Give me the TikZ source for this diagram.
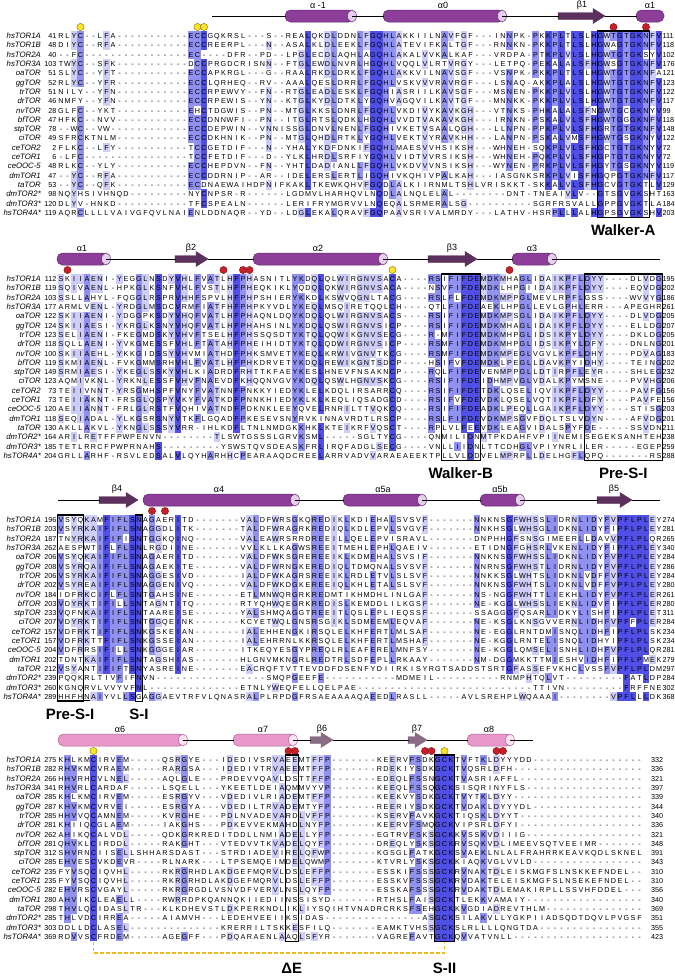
\documentclass[tikz,border=0pt]{standalone}
\usepackage{fontspec}
\setmainfont{Liberation Sans}
\definecolor{pidA}{RGB}{80,80,230}
\definecolor{pidB}{RGB}{145,145,240}
\definecolor{pidC}{RGB}{205,205,248}
\definecolor{hxPurple}{RGB}{140,62,152}
\definecolor{hxPurpleEdge}{RGB}{95,40,105}
\definecolor{hxPurpleCap}{RGB}{228,208,235}
\definecolor{stDark}{RGB}{92,48,92}
\definecolor{hxPink}{RGB}{232,152,202}
\definecolor{hxPinkEdge}{RGB}{175,95,145}
\definecolor{hxPinkCap}{RGB}{250,228,242}
\definecolor{stGrey}{RGB}{135,108,132}
\definecolor{dotRed}{RGB}{200,32,40}
\definecolor{dotRedEdge}{RGB}{120,15,20}
\definecolor{dotYellow}{RGB}{250,228,40}
\definecolor{dotYellowEdge}{RGB}{130,110,10}
\definecolor{linkGold}{RGB}{242,185,20}
\tikzset{
  seqname/.style={font=\fontsize{7.8}{8}\selectfont\itshape, anchor=base east, inner sep=0pt},
  seqnum/.style={font=\fontsize{7.2}{8}\selectfont, inner sep=0pt},
  sslabel/.style={font=\fontsize{9}{10}\selectfont, inner sep=0pt},
  motiflabel/.style={font=\fontsize{15}{16}\selectfont\bfseries, inner sep=0pt},
  motifbox/.style={draw=black, line width=1.1pt},
  helixP/.style={fill=hxPurple, draw=hxPurpleEdge, line width=0.5pt, rounded corners=5.5pt},
  capP/.style={fill=hxPurpleCap, draw=hxPurpleEdge, line width=0.5pt},
  helixK/.style={fill=hxPink, draw=hxPinkEdge, line width=0.5pt, rounded corners=5.5pt},
  capK/.style={fill=hxPinkCap, draw=hxPinkEdge, line width=0.5pt},
  strandP/.style={fill=stDark, draw=stDark, line width=0.4pt},
  strandK/.style={fill=stGrey, draw=stGrey, line width=0.4pt},
  backbone/.style={draw=black, line width=0.9pt},
  reddot/.style={fill=dotRed, draw=dotRedEdge, line width=0.4pt},
  yeldot/.style={fill=dotYellow, draw=dotYellowEdge, line width=0.4pt},
  golddash/.style={draw=linkGold, line width=1.4pt, dash pattern=on 3.5pt off 2.5pt},
}
\newcommand\helixel[4]{%
  \path[helix#4] (#1,#3-6) rectangle (#2+2,#3+6);
  \path[cap#4] (#2,#3) ellipse[x radius=4.5pt, y radius=6pt];}
\newcommand\strandel[4]{%
  \path[strand#4] (#1,#3-3.5) -- (#2-12,#3-3.5) -- (#2-12,#3-7.5) -- (#2,#3) -- (#2-12,#3+7.5) -- (#2-12,#3+3.5) -- (#1,#3+3.5) -- cycle;}
\newcommand\rdot[2]{\path[reddot] (#1,#2) circle[radius=3.6pt];}
\newcommand\ydot[2]{\path[yeldot] (#1,#2) circle[radius=3.6pt];}
\newcommand\numcolumn[5]{%
  \foreach \v [count=\i] in {#5} {\node[seqnum, anchor=#4] (#1-\i) at (#3, {#2+(\i-1)*9.3+2.6}) {\v};}}
\newcommand\namecolumn[2]{%
  \foreach \v [count=\i] in {hsTOR1A,hsTOR1B,hsTOR2A,hsTOR3A,oaTOR,ggTOR,trTOR,drTOR,nvTOR,bfTOR,stpTOR,ciTOR,ceTOR2,ceTOR1,ceOOC-5,dmTOR1,taTOR,dmTOR2*,dmTOR3*,hsTOR4A*}
    {\node[seqname] (#1-\i) at (41, {#2+(\i-1)*9.3+2.6}) {\v};}}

\ExplSyntaxOn
\intarray_new:Nn \g__aln_cnt_intarray { 26 }
\seq_new:N \l__aln_rows_seq
\int_new:N \l__aln_max_int
\int_new:N \l__aln_row_int
\int_new:N \l__aln_idx_int
\int_new:N \l__aln_ncol_int
\tl_new:N \l__aln_ch_tl
\tl_new:N \l__aln_fill_tl
\tl_const:Nn \c__aln_dash_tl { - }
\fp_new:N \l__aln_x_fp
\fp_new:N \l__aln_y_fp
\cs_new_protected:Npn \__aln_get_char:nn #1 #2
  {
    \tl_set:Nx \l__aln_ch_tl { \str_item:nn {#1} {#2} }
    \tl_if_empty:NT \l__aln_ch_tl { \tl_set_eq:NN \l__aln_ch_tl \c__aln_dash_tl }
  }
\cs_new_protected:Npn \__aln_cell:
  {
    \begin{pgfscope}
    \exp_args:NV \pgfsetfillcolor \l__aln_fill_tl
    \pgfpathrectangle
      { \pgfpoint { \fp_eval:n { \l__aln_x_fp - 3.3 } pt } { \fp_eval:n { \l__aln_y_fp - 4.7 } pt } }
      { \pgfpoint { 6.6pt } { 9.4pt } }
    \pgfusepath { fill }
    \end{pgfscope}
  }
\cs_new_protected:Npn \aln_block:nnnn #1 #2 #3 #4
  {
    \seq_set_from_clist:Nn \l__aln_rows_seq {#4}
    \int_set:Nn \l__aln_ncol_int {#2}
    \int_step_inline:nn { \l__aln_ncol_int }
      {
        \intarray_gzero:N \g__aln_cnt_intarray
        \int_zero:N \l__aln_max_int
        \seq_map_inline:Nn \l__aln_rows_seq
          {
            \__aln_get_char:nn {####1} {##1}
            \tl_if_eq:NNF \l__aln_ch_tl \c__aln_dash_tl
              {
                \int_set:Nn \l__aln_idx_int { \exp_args:NV \int_from_alph:n \l__aln_ch_tl }
                \intarray_gset:Nnn \g__aln_cnt_intarray { \l__aln_idx_int }
                  { \intarray_item:Nn \g__aln_cnt_intarray { \l__aln_idx_int } + 1 }
                \int_set:Nn \l__aln_max_int
                  { \int_max:nn { \l__aln_max_int } { \intarray_item:Nn \g__aln_cnt_intarray { \l__aln_idx_int } } }
              }
          }
        \tl_clear:N \l__aln_fill_tl
        \int_compare:nNnTF { \l__aln_max_int } > { 16 }
          { \tl_set:Nn \l__aln_fill_tl { pidA } }
          {
            \int_compare:nNnTF { \l__aln_max_int } > { 12 }
              { \tl_set:Nn \l__aln_fill_tl { pidB } }
              { \int_compare:nNnT { \l__aln_max_int } > { 8 } { \tl_set:Nn \l__aln_fill_tl { pidC } } }
          }
        \fp_set:Nn \l__aln_x_fp { 61 + ( ##1 - 1 ) * 6.5 }
        \int_zero:N \l__aln_row_int
        \seq_map_inline:Nn \l__aln_rows_seq
          {
            \fp_set:Nn \l__aln_y_fp { - ( #1 + \l__aln_row_int * 9.3 ) }
            \int_incr:N \l__aln_row_int
            \__aln_get_char:nn {####1} {##1}
            \tl_if_eq:NNF \l__aln_ch_tl \c__aln_dash_tl
              {
                \tl_if_empty:NF \l__aln_fill_tl
                  {
                    \int_compare:nNnT
                      { \intarray_item:Nn \g__aln_cnt_intarray { \exp_args:NV \int_from_alph:n \l__aln_ch_tl } }
                      = { \l__aln_max_int }
                      { \__aln_cell: }
                  }
              }
            \pgftext [ base , at = { \pgfpoint { \fp_use:N \l__aln_x_fp pt } { \fp_eval:n { \l__aln_y_fp - 2.6 } pt } } ] { \l__aln_ch_tl }
          }
      }
  }
\NewDocumentCommand \AlnBlock { m m m m } { \aln_block:nnnn {#1} {#2} {#3} {#4} }
\ExplSyntaxOff

\begin{document}
\begin{tikzpicture}[x=1pt,y=-1pt]
\useasboundingbox (0,0) rectangle (675,978);
\fill[white] (0,0) rectangle (675,978);

{\fontsize{7.2}{8}\selectfont
\AlnBlock{36}{93}{1}{
RLYC--LFA-----------ECCGQKRSL---S--REALQKDLDDNLFGQHLAKKIILNAVFGF---INNPK-PKKPLTLSLHGWTGTGKNFV,
DIYC--RFA-----------ECCREERPL---N--ASALKLDLEEKLFGQHLATEVIFKALTGF---RNNKN-PKKPLTLSLHGWAGTGKNFV,
--FC----------------EC----DFR--PD--LPGLECDLAQHLAGQHLAKALVVKALKAF---VRDPA-PTKPLVLSLHGWTGTGKSYV,
TWYC--SFK-----------DCCPRGDCRISNN--FTGLEWDLNVRLHGQHLVQQLVLRTVRGY---LETPQ-PEKALALSFHGWSGTGKNFV,
SLYC--YFT-----------ECCAPKRGL---G--RAALRKDLDRKLFGQHLAKKVILNAVSGF---VSNPK-PKKPLTLSLHGWTGTGKNFA,
RLYC--YFR-----------ECCLQRHEQ--RV--AAALQESLDRRLFGQHLVSKVVVRAVRGF---LSNAQ-AKKPLALSLHGWTGTGKNFV,
NILY--YFN-----------ECCRPEWVY--FN--RTGLEADLESKLFGQHIASRIILKAVSGF---MSNEN-PKKPLVLSLHGWTGTGKNFV,
NMFY--YFN-----------ECCRPEWIS--YN--KTGLKYDLDTKLYGQHVAGQVILKAVTGF---MNNKK-PKKPLVLSLHGWTGTGKNFV,
GLFC--YKT-----------EHCTDGWIS--PN--MTGLKKSLDNRLFGQHLVKDIVYKAVKGH---VTNKS-PHKALALSFNGWTGCGKNYV,
HFKC--NVV-----------ECCDNNWFI--PN--ITGLRTSLQDKLHGQHLVVDTVAKAVKGH---IRNKN-PSKALVLSFHGWTGGGKNFV,
--WC--VW------------ECCDEPWIN--VNNISSGLDNVLNENLFGQHIVKETVSAALQGH---LLNPN-PPKPLVLSFHGRTGTGKNFV,
SFRCKTNLM-----------ECCDKHNIK--PN--MTGLQHDLRTKLYGQHLVEKTVYRAVKHH---LANPN-PSKALVMSFHGWTGSGKNYV,
FLKC--LFY-----------TCCGETDIF---N--YHALYKDFDNKIFGQHLMAESVVHSIKSH---WHNEH-SQKPLVLSFHGCTGTGKNYV,
-LFC----------------TCCFETDIF---D--YLKLHRDLSRFIYGQHLVIDTVVRSIKSH---WHNEH-PQKPLVLSFHGPTGTGKNYV,
RLKC--YLY-----------ECCHEPDVN--FN--YHTLDADIANLLFGQHLVKDVVVNSIKSH---WYNEN-PRKPLVLSFHGYTGSGKNYV,
--YC--RFA-----------ECCDDRNIP--AR--IDELERSLERTLIGQHIVKQHIVPALKAH---IASGNKSRKPLVISFHGQPGTGKNFV,
--YC--QFK-----------ECDNAEWAIHDPNIFKAKLTKEWKQHVFGQDLALKIIRNMLTSHLVRISKKT-SKKALVLSFHGCVGTGKTLV,
NQYHSIVHNQD---------NYCNPSR-R------LGDMVLHARHQVLNQDLALNQLELAL--------DNT-TNEAIVLV--GTSGVGKSHT,
DLYV-HNKD-----------TFCSPEALN------LERIFRYMGRVVLNQEQALSRMERALSG----------SGRFRSVALLGPPGVGKTLA,
AQRCLLLLVAIVGFQVLNAIENLDDNAQR--YD--LDGLEKALQRAVFGQPAAVSRIVALMRDY---LATHV-HSRPLLLALHGPSGVGKSHV}
\AlnBlock{279}{93}{1}{
SKIIAENI-YEGGLNSDYVHLFVATLHFPHASNITLYKDQLQLWIRGNVSACA----RSIFIFDEMDKMHAGLIDAIKPFLDYY----DLVDG,
SQIVAENL-HPKGLKSNFVHLFVSTLHFPHEQKIKLYQDQLQKWIRGNVSACA----NSVFIFDEMDKLHPGIIDAIKPFLDYY----EQVDG,
SSLLAHYL-FQGGLRSPRVHHFSPVLHFPHPSHIERYKKDLKSWVQGNLTACG----RSLFLFDEMDKMPPGLMEVLRPFLGSS----WVVYG,
ARMLVENL-YRDGLMSDCVRMFIATFHFPHPKYVDLYKEQLMSQIRETQQLCH----QTLFIFDEAEKLHPGLLEVLGPHLERR---APEGHR,
SKIIAENI-YDGGPKSDYVHQFVATLHFPHAQNLDQYKDQLQLWIRGNVSACS----RSIFIFDEMDKMPSGLIDAIKPFLDYY----DLVDG,
SKIIAESI-YKRGLKSNYVHQFVATLHFPHAHSINLYKDQLQSWIRGNVSICP----RSIFIFDEMDKMHAGLIDAIKPFLDYY----ELLDG,
SELIAENI-FKEGMDSKYVHVFTSELHFPHSSQSDTYKTQLQQWIKGNVSECG----R-MFIFDEMDKMHPGLIDSIKPYLDYY----DKLDG,
SQLLAENI-YVKGMESSFVHLFTATAHFPHEIHIDTYKTQLQDWIRGNVSICP----RSMFIFDEMDKMHPGLIDSIKPYLDFY----DNLNG,
SKIIAEHL-YKKGIDSSYVHVMIATHDFPHKSMVETYKEQLKRWIVGNVTKCG----RSMFIFDEMDKMPEGLVGVLKPFLDHY----PDVAG,
SKMIAENL-FVKGMMSRHVHLFVATLHFPHKDRVETYKDQLREWIKGNTSDCP----HSIFVFDEMDKLPEGLLDAVKPYIDHY----TEING,
SRMIAESI-YKEGLSSKYVHLKIADRDFRHTTKFAEYKESLHNEVFNSAKNCP----RQLFIFDEVENMPPGLLDTIRPFLEYR----SHLEG,
AQMIVKNL-YRKNLESSFVHVFNAEVDFKHQQNVGVYKDQLQSWLHGNVSKCG----RSIFIFDEIDHMPVGLVDALKPYMSNE----PVVHG,
TEIIVNNT-YRSGMHSPFVNYFVATNNFPNKKYIEDYKLELKDQLIRSARRCQ----RSIFIFDETDKLQSELIQVIKPFLDYY----PAVFG,
TEIIAKNT-FRSGLQSPYVKYFVATKDFPNNKHIEDYKLKLKEQLIQSADGCD----RSIFVFDEVDKLQSELVQTIKPFLDFY----PAVFE,
AEIIANNT-FRLGLRSTFVQHIVATNDFPDKNKLEEYQVELRNRILTTVQKCQ----RSIFIFDEADKLPEQLLGAIKPFLDYY----STISG,
SEQIADAL-YLKGSRSNYVTKFLGQADFPKESEVSNYRVKINNAVRDTLRSCP----RSLFIFDEVDKMPSGVFDQLTSLVDYN----AFVDG,
AKLLAKVL-YKNGLSSSYVRR-IHLKDFLTNLNMDGKKHKLKTEIKRFVQSCT----RPLVLFEEVDKLEAGVIDALSPYFDE-----SSVDN,
ARILRETFFPWPENVN--------TLSWTGSSSLGRVKSML-----SGLTYCG----QNMILIDNMTPKDAHFVPIINEMISEGEKSANHTEH,
TETLRRCFPWPRNAHS---------YSWSTQVSDEASKFRLIRQFADGLSECG----VNLLIIDNLTTCDHGLVPIYNRLILER-----EGEP,
GRLLARHF-RSVLEDSALVLQYHARHHCPEARAAQDCREELARRVADVVARAEAEEKTPLLVLDDVELMPRPLLDELHGFLQPQ-------RS}
\AlnBlock{520}{93}{1}{
VSYQKAMFIFLSNAGAERITD-------VALDFWRSGKQREDIKLKDIEHALSVSVF-------NNKNSGFWHSSLIDRNLIDYFVPFLPLEY,
VSYRKAIFIFLSNAGGDLITK-------TALDFWRAGRKREDIQLKDLEPVLSVGVF-------NNKHSGLWHSGLIDKNLIDYFIPFLPLEY,
TNYRKAIFIFISNTGGKQINQ-------VALEAWRSRRDREEILLQELEPVISRAVL-------DNPHHGFSNSGIMEERLLDAVVPFLPLQR,
AESPWTIFLFLSNLRGDIINE-------VVLKLLKAGWSREEITMEHLEPHLQAEIV-------ETIDNGFGHSRLVKENLIDYFIPFLPLEY,
VSYQKAIFIFLSNAGAERITD-------VALDFWKSGREREEIKLKDMEHALSVSIF-------NNKNSGFWHSSLIDKNLIDYFVPFLPLEY,
VSYRQAIFIFLSNAGAEKITE-------VALDFWRNGKEREDIQLTDMQNALSVSVF-------NNRNSGFWHSTLIDRNLIDYFVPFLPLEY,
VSYRKAIFIFLSNAGGESIVD-------IALDFWKAGRSREEIKLRDLETVLSLSVF-------NNKKSGLWHTSLIDKNLVDFFVPFLPLEY,
VSYREAIFIFLSNAGGENIVQ-------VALDFWKDGKEREEIQLKHLETALSLSVF-------NNKNSGFWHTSLIDKNLVDFFVPFLPLEY,
IDFRKCIFLFLSNTGAHSINE-------ETLMNWQRGRKREDMTIKHMDHLINLGAF-------NS-NGGFWHTTLIEKHLIDYFVPFLPLER,
VDYRKTIFILLSNTAGNTITQ-------RTYQHWQEGRKREDISLKEMDDLILKGSF-------NE-KGGLWHSSLIEKNLIDVFIPFLPLER,
VQFNKAIFIFLSNTAAREISE-------YALSHMQAGGTREEITLQSLEPLIEQSSF-------SSAGGGFQSARLIDKYLISHFIPFLPLET,
VDYRKTIFIFLSNTGGQEINK-------KCYETWQLGNSRSGIKLSDMEEMLEQVAF-------NE-KSGLKNSGVVERNLIDHFVPFFPLER,
VDFRKTIFIFLSNKGSKEIAN-------IALEHHENGKIRSQLELKHFERTLMLSAF-------NE-EGGLRNTDMISNQLIDHFIPFLPLSK,
VDFRKTTFIFLSNKGSSEIAN-------IALEHRRNLKKRSQLELKHFERTLMSHAF-------NE-KGGLRNTELISNQLIDHYIPFLPLSK,
VDFRRSIFILLSNKGGGEIAR-------ITKEQYESGYPREQLRLEAFERELMNFSY-------NE-KGGLQMSELISNHLIDHFVPFLPLQR,
TDNTKAIFIFLSNTAGSHIAS-------HLGNVMKNGRLREDTRLSDFEPLLRKAAY-------NM-DGGMKKTTMIESHVIDHFIPFLPMEK,
VSYANTIFIFTSNYASREINE-------EACRQFTVTTEVDDFDSENFYDIIRKISYRGTSADDSTSRTGFASSEFVKHCLVSSFVPFLPLDM,
PQQKRLTIVFIFNVN-----------------SMQPGEEFE-----------MDMEIL----------RNMPHTQLVT---------FATLDP,
KGNQRVLVVYVFNL--------------ETNLYWEQFELLQELPAE---------------------------TTIVN---------FRFFNE,
HHFHNAIYVLLSGAGGAEVTRFVLQNASRALPLRPDGFRSAEAAAAQAEEDLRASLL-----AVLSREHPLWQAAAI--------VPFLLLDK}
\AlnBlock{760}{90}{0}{
KHLKMCIRVEM-----QSRGYE---IDEDIVSRVAEEMTFFP-------KEERVFSDKGCKTVFTKLDYYYDD,
RHVKMCVRAEM-----RARGSA---IDEDIVTRVAEEMTFFP-------RDEKIYSDKGCKTVQSRLDFH,
HHVRHCVLNEL-----AQLGLE---PRDEVVQAVLDSTTFFP-------EDEQLFSSNGCKTVASRIAFFL,
RHVRLCARDAF-----LSQELL---YKEETLDEIAQMMVYVP-------KEEQLFSSQGCKSISQRINYFLS,
KHLKMCIRVEM-----ESRGYV---VDEDIVLRIADEMTFFP-------KEEKVYSDKGCKTVYTKLDYY,
KHVKMCVRVEI-----ESRGYA---VDEDILTRVADEMTYFP-------REERIYSDKGCKTVDAKLDYYYDL,
HHVVQCAMNEM-----KVRGHE---PDLNVADEVARDLVFFP-------KSERVFAVKGCKTIQSKLDYYT,
KHIIQCGLAEM-----IAKGHS---PDKEVVEKMAHDLNYFP-------KEERVFSMQGCKVIPSRLDFYI,
AHIKQCALVDL-----QDKGRKREDITDDLLNMIADELLYFP-------EGTRVFSKSGCKKVSSKVDIIIG,
QHVKLCIRDDL-----RAKGHT---VTEDVVTKVADELQYFP-------DREQLYSKSGCKRVSQKVDLIMEEVSQTVEEIMR,
SHVRNCIISELLSHHARSDAST---STRDIADEVIRELQFWP-------KGSGLFATKGCKSVAEKLNLALFRAHRRKEAVKQDLSKNEL,
EHVESCVKDEVR----RLNARK---LTPSEMQEIMDELQWMP-------KTVRLYSKSGCKKIAQKVGLVVLD,
FYVSQCIQVHL-----RKRGRHDLAKDGEFMQRVLDSLEFFP-------ESSKIFSSSGCKRVNAKTDLEISKMGFSLNSKKEFNDEL,
FYVSQCIQVHL-----RKRGRHDLAKDGEFMQRVLDSLEFFP-------ESSKVFSSSGCKRVDAKTELEISKMGFSLNSEKEFNDEL,
EHVRSCVGAYL-----RKRGRGDLVSNVDFVERVLNSLQYFP-------ESSKAFSSSGCKRVDAKTDLEMAKIRPLLSSVHFDDEL,
AHVIKCLEAELL----RWRRDPKQANNQKIIEDIINSSISYD-------RTHSLFAISGCKTLEKKVAMAIY,
THVLQCIDASLTR---KLKDHEVSTLDKPERKNDLIKLIYSQIHTVNADRCRKSFSEHGCKKVGDIADREVTHLM,
THLVDCIRREA-----AIAMVH---LEDEHVEEIIKSIDAS---------------ASGCKSILAKVLLYGKPIIADSQDTDQVLPVGSF,
DDLLDCLASEL--------------KRERRILTSKKESFILQ-------EAMKTVHSSGCKSLRLLLLQNGTDA,
RDVVSCFRDEM-----AGEGFF---PDQARAENLAAQLSFYR-------VAGREFAVTGCKQVVATVNLL}
}

% names and residue numbers
\namecolumn{na}{36}\namecolumn{nb}{279}\namecolumn{nc}{520}\namecolumn{nd}{760}
\numcolumn{sa}{36}{56.5}{base east}{41,48,40,103,51,52,51,46,28,47,78,49,2,6,48,47,53,98,120,119}
\numcolumn{ea}{36}{662.5}{base west}{111,118,102,176,121,123,122,117,99,118,148,122,72,72,119,117,129,163,184,203}
\numcolumn{sb}{279}{56.5}{base east}{112,119,103,177,122,124,123,118,100,119,149,123,73,73,120,118,130,164,185,204}
\numcolumn{eb}{279}{662.5}{base west}{195,202,186,261,205,207,205,201,183,202,232,206,156,156,203,201,211,238,259,288}
\numcolumn{sc}{520}{56.5}{base east}{196,203,187,262,206,208,206,202,184,203,233,207,157,157,204,202,212,239,260,289}
\numcolumn{ec}{520}{662.5}{base west}{274,281,265,340,284,286,284,280,261,280,311,284,234,234,281,279,297,284,302,368}
\numcolumn{sd}{760}{56.5}{base east}{275,282,266,341,285,287,285,281,262,281,312,285,235,235,282,280,298,285,303,369}
\numcolumn{ed}{760}{651}{base west}{332,336,321,397,339,344,340,336,321,348,391,343,310,310,356,340,369,351,355,423}

% ---- block 1 secondary structure
\helixel{285}{352}{16}{P}
\helixel{383}{502}{16}{P}
\strandel{558}{605}{16}{P}
\path[helixP] (636,10) rectangle (664,22);
\draw[backbone] (212,16) -- (286,16) (352,16) -- (384,16) (502,16) -- (559,16) (605,16) -- (637,16);
\node[sslabel] (ssa1) at (318,5) {α -1};
\node[sslabel] (ssa2) at (443,5) {α0};
\node[sslabel] (ssa3) at (582,5) {β1};
\node[sslabel] (ssa4) at (650,5) {α1};
\ydot{80.5}{27}\ydot{197.5}{27}\ydot{204}{27}
\rdot{613.5}{27}\rdot{646}{27}
\draw[motifbox] (597.25,31) rectangle (649.25,217.7);
\node[motiflabel] (walkerA) at (623.25,230) {Walker-A};

% ---- block 2
\helixel{57}{106}{259}{P}
\strandel{175}{208}{259}{P}
\helixel{253}{383}{259}{P}
\strandel{428}{477}{259}{P}
\helixel{512}{552}{259}{P}
\draw[backbone] (106,259) -- (176,259) (208,259) -- (254,259) (383,259) -- (429,259) (477,259) -- (513,259) (552,259) -- (660,259);
\node[sslabel] (ssb1) at (82,248) {α1};
\node[sslabel] (ssb2) at (191,248) {β2};
\node[sslabel] (ssb3) at (318,248) {α2};
\node[sslabel] (ssb4) at (452,248) {β3};
\node[sslabel] (ssb5) at (532,248) {α3};
\rdot{67.5}{270}\rdot{223.5}{270}\rdot{243}{270}\rdot{249.5}{270}
\ydot{392.5}{270}\rdot{509.5}{270}
\draw[motifbox] (441.25,274) rectangle (480.25,460.7);
\draw[motifbox] (584.25,274) rectangle (662.25,460.7);
\node[motiflabel] (walkerB) at (460.75,473) {Walker-B};
\node[motiflabel] (presiA) at (623.25,473) {Pre-S-I};

% ---- block 3
\strandel{99}{138}{500}{P}
\helixel{143}{295}{500}{P}
\helixel{343}{422}{500}{P}
\helixel{480}{520}{500}{P}
\strandel{597}{632}{500}{P}
\draw[backbone] (58,500) -- (100,500) (295,500) -- (344,500) (422,500) -- (481,500) (520,500) -- (598,500) (632,500) -- (660,500);
\node[sslabel] (ssc1) at (117,489) {β4};
\node[sslabel] (ssc2) at (219,489) {α4};
\node[sslabel] (ssc3) at (383,489) {α5a};
\node[sslabel] (ssc4) at (500,489) {α5b};
\node[sslabel] (ssc5) at (614,489) {β5};
\rdot{152}{511}\rdot{165}{511}
\draw[motifbox] (57.75,515) rectangle (83.75,701.7);
\draw[motifbox] (135.75,515) rectangle (142.25,701.7);
\draw[line width=0.6pt] (57.75,700.5) -- (90.25,700.5);
\node[motiflabel] (presiB) at (70,714) {Pre-S-I};
\node[motiflabel] (sone) at (139,714) {S-I};

% ---- block 4
\helixel{58}{183}{740}{K}
\helixel{233}{293}{740}{K}
\strandel{310}{333}{740}{K}
\strandel{408}{427}{740}{K}
\helixel{467}{510}{740}{K}
\draw[backbone] (183,740) -- (234,740) (293,740) -- (311,740) (333,740) -- (409,740) (427,740) -- (468,740) (510,740) -- (533,740);
\node[sslabel] (ssd1) at (120,729) {α6};
\node[sslabel] (ssd2) at (263,729) {α7};
\node[sslabel] (ssd3) at (322,729) {β6};
\node[sslabel] (ssd4) at (417,729) {β7};
\node[sslabel] (ssd5) at (489,729) {α8};
\ydot{93.5}{751}
\rdot{288.5}{751}\rdot{295}{751}
\rdot{425}{751}\rdot{431.5}{751}
\ydot{444.5}{751}
\rdot{496.5}{751}\rdot{503}{751}
\draw[motifbox] (285.25,755) rectangle (298.25,941.7);
\draw[motifbox] (434.75,755) rectangle (454.25,941.7);
\coordinate (cysA) at (93.5,941.7);
\coordinate (cysB) at (444.5,941.7);
\draw[golddash] (cysA) |- (444.5,953) -- (cysB);
\node[motiflabel] (dE) at (291.75,968) {ΔE};
\node[motiflabel] (stwo) at (444.5,968) {S-II};
\end{tikzpicture}
\end{document}
